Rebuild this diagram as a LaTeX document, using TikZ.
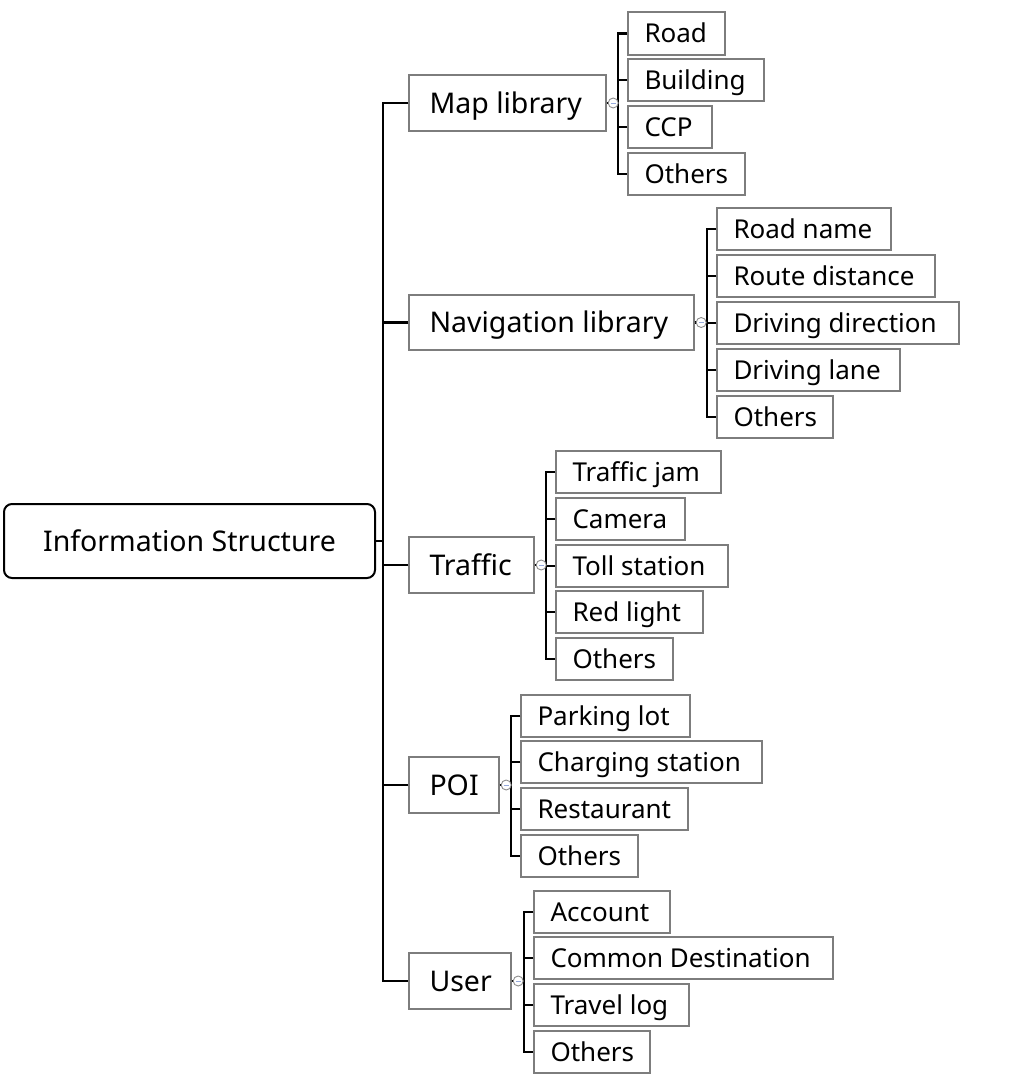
\documentclass[tikz,border=0pt]{standalone}
\usepackage{fontspec}
\setmainfont{Noto Sans}
\definecolor{boxgray}{RGB}{125,125,125}
\definecolor{knobgray}{RGB}{140,140,140}
\definecolor{minusblue}{RGB}{150,170,220}
\tikzset{
  box/.style={draw=boxgray, line width=1.4pt, inner sep=0pt, fill=white},
  lbl/.style={inner sep=0pt, anchor=west, text depth=0pt},
  mainlbl/.style={lbl, text height=20.3pt, font=\fontsize{28.5}{34}\selectfont},
  leaflbl/.style={lbl, text height=18.6pt, font=\fontsize{26}{31}\selectfont},
  rootbox/.style={draw=black, line width=2pt, rounded corners=8pt, inner sep=0pt, text height=20.3pt, text depth=0pt, font=\fontsize{28.5}{34}\selectfont},
  conn/.style={draw=black, line width=2.2pt},
  knob/.style={circle, draw=knobgray, line width=0.9pt, fill=white, minimum size=10pt, inner sep=0pt,
    path picture={\draw[minusblue, line width=0.9pt] ([xshift=2.4pt]path picture bounding box.west) -- ([xshift=-2.4pt]path picture bounding box.east);}}
}
% label style, name, x1, y1, x2, y2, pad, text
\newcommand\mybox[8]{%
  \pgfmathsetmacro\bw{#5-#3}%
  \pgfmathsetmacro\bh{#6-#4}%
  \node[box, minimum width=\bw pt, minimum height=\bh pt] (#2) at ({(#3+#5)/2},{(#4+#6)/2}) {};%
  \node[#1] (#2-t) at ([xshift=#7pt]#2.west) {#8};%
}
\begin{document}
\begin{tikzpicture}[x=1pt, y=-1pt]
\useasboundingbox (0,0) rectangle (1022,1080);

% root
\node[rootbox, minimum width=371pt, minimum height=74pt] (root) at (189.5,541) {Information Structure};

% main branches
\mybox{mainlbl}{map}{409}{75}{606}{131}{21}{Map library}
\mybox{mainlbl}{nav}{409}{295}{694}{350}{21}{Navigation library}
\mybox{mainlbl}{traffic}{409}{537}{534}{593}{21}{Traffic}
\mybox{mainlbl}{poi}{409}{757}{499}{813}{21}{POI}
\mybox{mainlbl}{user}{409}{953}{511}{1009}{21}{User}

% map children
\mybox{leaflbl}{m1}{628}{12}{725}{55}{17}{Road}
\mybox{leaflbl}{m2}{628}{59}{764}{101}{17}{Building}
\mybox{leaflbl}{m3}{628}{106}{712}{148}{17}{CCP}
\mybox{leaflbl}{m4}{628}{153}{745}{195}{17}{Others}

% navigation children
\mybox{leaflbl}{n1}{717}{208}{891}{250}{17}{Road name}
\mybox{leaflbl}{n2}{717}{255}{935}{297}{17}{Route distance}
\mybox{leaflbl}{n3}{717}{302}{959}{344}{17}{Driving direction}
\mybox{leaflbl}{n4}{717}{349}{900}{391}{17}{Driving lane}
\mybox{leaflbl}{n5}{717}{396}{833}{438}{17}{Others}

% traffic children
\mybox{leaflbl}{t1}{556}{451}{721}{493}{17}{Traffic jam}
\mybox{leaflbl}{t2}{556}{498}{685}{540}{17}{Camera}
\mybox{leaflbl}{t3}{556}{545}{728}{587}{17}{Toll station}
\mybox{leaflbl}{t4}{556}{591}{703}{633}{17}{Red light}
\mybox{leaflbl}{t5}{556}{638}{673}{680}{17}{Others}

% POI children
\mybox{leaflbl}{p1}{521}{695}{690}{737}{17}{Parking lot}
\mybox{leaflbl}{p2}{521}{741}{762}{783}{17}{Charging station}
\mybox{leaflbl}{p3}{521}{788}{688}{830}{17}{Restaurant}
\mybox{leaflbl}{p4}{521}{835}{638}{877}{17}{Others}

% user children
\mybox{leaflbl}{u1}{534}{891}{670}{933}{17}{Account}
\mybox{leaflbl}{u2}{534}{937}{833}{979}{17}{Common Destination}
\mybox{leaflbl}{u3}{534}{984}{689}{1026}{17}{Travel log}
\mybox{leaflbl}{u4}{534}{1031}{650}{1073}{17}{Others}

% trunk
\coordinate (trunk) at (384,541);
\draw[conn] (root.east) -- (trunk);
\draw[conn] (map.west) -- ++(-25,0) |- (user.west);
\foreach \b in {nav,traffic,poi} \draw[conn] (\b.west) -- ++(-25,0);

% brackets
\draw[conn] (m1.west) -- ++(-9,0) |- (m4.west);
\foreach \c in {m2,m3} \draw[conn] (\c.west) -- ++(-9,0);
\draw[conn] (map.east) -- ([xshift=-9pt]map.east -| m1.west);
\node[knob] (mapk) at ([xshift=6.5pt]map.east) {};

\draw[conn] (n1.west) -- ++(-9,0) |- (n5.west);
\foreach \c in {n2,n3,n4} \draw[conn] (\c.west) -- ++(-9,0);
\draw[conn] (nav.east) -- ([xshift=-9pt]nav.east -| n1.west);
\node[knob] (navk) at ([xshift=6.5pt]nav.east) {};

\draw[conn] (t1.west) -- ++(-9,0) |- (t5.west);
\foreach \c in {t2,t3,t4} \draw[conn] (\c.west) -- ++(-9,0);
\draw[conn] (traffic.east) -- ([xshift=-9pt]traffic.east -| t1.west);
\node[knob] (traffick) at ([xshift=6.5pt]traffic.east) {};

\draw[conn] (p1.west) -- ++(-9,0) |- (p4.west);
\foreach \c in {p2,p3} \draw[conn] (\c.west) -- ++(-9,0);
\draw[conn] (poi.east) -- ([xshift=-9pt]poi.east -| p1.west);
\node[knob] (poik) at ([xshift=6.5pt]poi.east) {};

\draw[conn] (u1.west) -- ++(-9,0) |- (u4.west);
\foreach \c in {u2,u3} \draw[conn] (\c.west) -- ++(-9,0);
\draw[conn] (user.east) -- ([xshift=-9pt]user.east -| u1.west);
\node[knob] (userk) at ([xshift=6.5pt]user.east) {};
\end{tikzpicture}
\end{document}
